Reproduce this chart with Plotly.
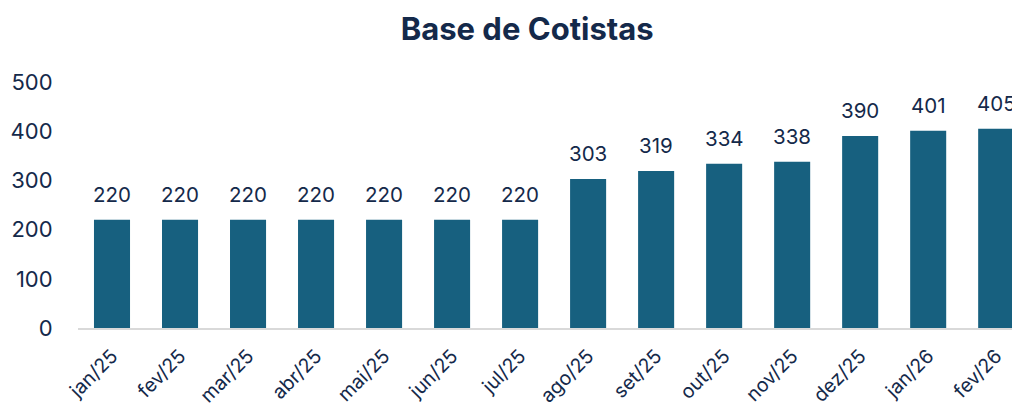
import plotly.graph_objects as go

categories = ["jan/25", "fev/25", "mar/25", "abr/25", "mai/25", "jun/25", "jul/25",
              "ago/25", "set/25", "out/25", "nov/25", "dez/25", "jan/26", "fev/26"]
values = [220, 220, 220, 220, 220, 220, 220, 303, 319, 334, 338, 390, 401, 405]
y_ticks = [0, 100, 200, 300, 400, 500]

BAR = "#17607F"
NAVY = "#14294A"
FONT = "Inter, Arial, sans-serif"

fig = go.Figure(go.Bar(x=categories, y=values, marker=dict(color=BAR, line=dict(width=0)),
                       hoverinfo="skip"))

for c, v in zip(categories, values):
    fig.add_annotation(x=c, y=v, text=str(v), showarrow=False, yanchor="bottom",
                       yshift=11, font=dict(family=FONT, size=20.5, color=NAVY))

# page body has an 8px margin, so the figure is sized to fit the 1020x409 window
fig.update_layout(
    width=1012, height=401,
    margin=dict(l=70, r=0, t=74, b=81, autoexpand=False),
    paper_bgcolor="white", plot_bgcolor="white",
    bargap=0.47,
    showlegend=False,
    title=dict(text="<b>Base de Cotistas</b>", x=0.513, xanchor="center", y=0.947, yanchor="middle",
               font=dict(family=FONT, size=31, color=NAVY)),
    font=dict(family=FONT, color=NAVY),
)
fig.update_xaxes(range=[-0.5, 13.35], showgrid=False, showline=True, linecolor="#D9D9D9",
                 linewidth=2, tickangle=-45, ticks="outside", ticklen=7, automargin=False,
                 tickcolor="rgba(0,0,0,0)", tickfont=dict(family=FONT, size=19.5, color=NAVY))
fig.update_yaxes(range=[0, 500], tickvals=y_ticks, showgrid=False, zeroline=False,
                 showline=False, ticks="outside", ticklen=20, tickcolor="rgba(0,0,0,0)",
                 automargin=False, tickfont=dict(family=FONT, size=22, color=NAVY))

fig.write_html("out.html")
